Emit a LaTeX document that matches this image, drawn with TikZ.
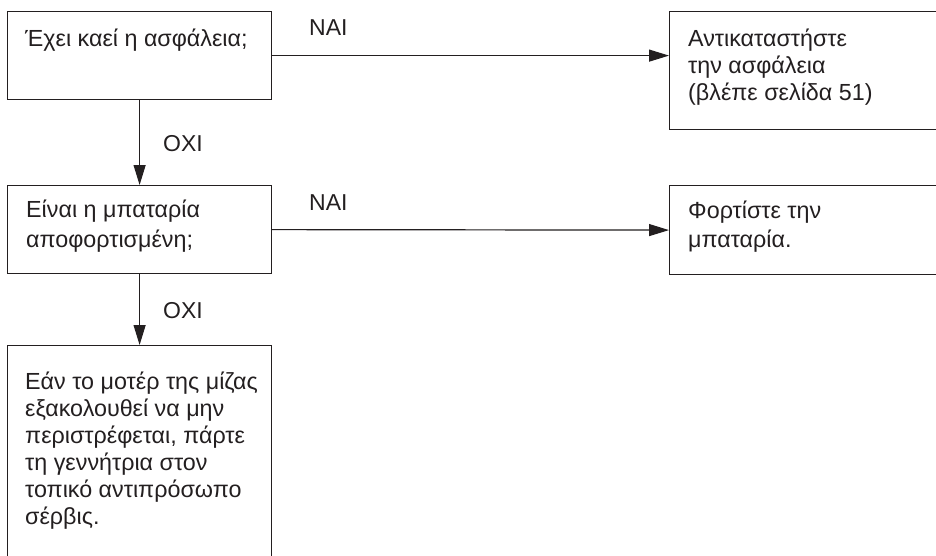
\documentclass[tikz,border=0pt]{standalone}
\usepackage{fontspec}
\setmainfont{Liberation Sans}
\usetikzlibrary{arrows.meta,calc}
\definecolor{ink}{HTML}{231F20}
\tikzset{
  x=1pt,y=-1pt,
  box/.style={draw=ink,line width=1.2pt,rectangle,inner sep=0pt,anchor=north west},
  txt/.style={inner sep=0pt,anchor=base west,text=ink},
  lbl/.style={inner sep=0pt,anchor=base west,text=ink,font=\fontsize{23}{27}\selectfont},
  conn/.style={draw=ink,line width=1.2pt,-{Triangle[length=20pt,width=12pt]}},
}
\newcommand{\boxtext}[2]{\parbox[t]{250pt}{\fontsize{23.3}{#1}\selectfont #2}}
\begin{document}
\begin{tikzpicture}
\useasboundingbox[fill=white] (0,0) rectangle (936,555);
\clip (0,0) rectangle (936,555);
\node[box,minimum width=264pt,minimum height=88pt] (b1) at (7,11) {};
\node[box,minimum width=300pt,minimum height=118pt] (b2) at (669,11) {};
\node[box,minimum width=264pt,minimum height=88pt] (b3) at (7,185) {};
\node[box,minimum width=300pt,minimum height=89pt] (b4) at (669,185) {};
\node[box,minimum width=264pt,minimum height=240pt] (b5) at (7,345) {};

\node[txt] (t1) at (25,46) {\boxtext{27}{Έχει καεί η ασφάλεια;}};
\node[txt] (t2) at (688,46) {\boxtext{27}{Αντικαταστήστε\\ την ασφάλεια\\ (βλέπε σελίδα 51)}};
\node[txt] (t3) at (26,217) {\boxtext{30}{Είναι η μπαταρία\\ αποφορτισμένη;}};
\node[txt] (t4) at (688,218) {\boxtext{29.5}{Φορτίστε την\\ μπαταρία.}};
\node[txt] (t5) at (25,389) {\boxtext{27}{Εάν το μοτέρ της μίζας\\ εξακολουθεί να μην\\ περιστρέφεται, πάρτε\\ τη γεννήτρια στον\\ τοπικό αντιπρόσωπο\\ σέρβις.}};

\draw[conn] (b1.east) -- (b1.east -| b2.west);
\draw[conn] (b3.east) -- (b4.west);
\draw[conn] (b1.south) -- (b3.north);
\draw[conn] (b3.south) -- (b5.north);

\node[lbl] (n1) at (309,35) {NAI};
\node[lbl] (n2) at (309,210) {NAI};
\node[lbl] (o1) at (163,151) {OXI};
\node[lbl] (o2) at (163,318) {OXI};
\end{tikzpicture}
\end{document}
